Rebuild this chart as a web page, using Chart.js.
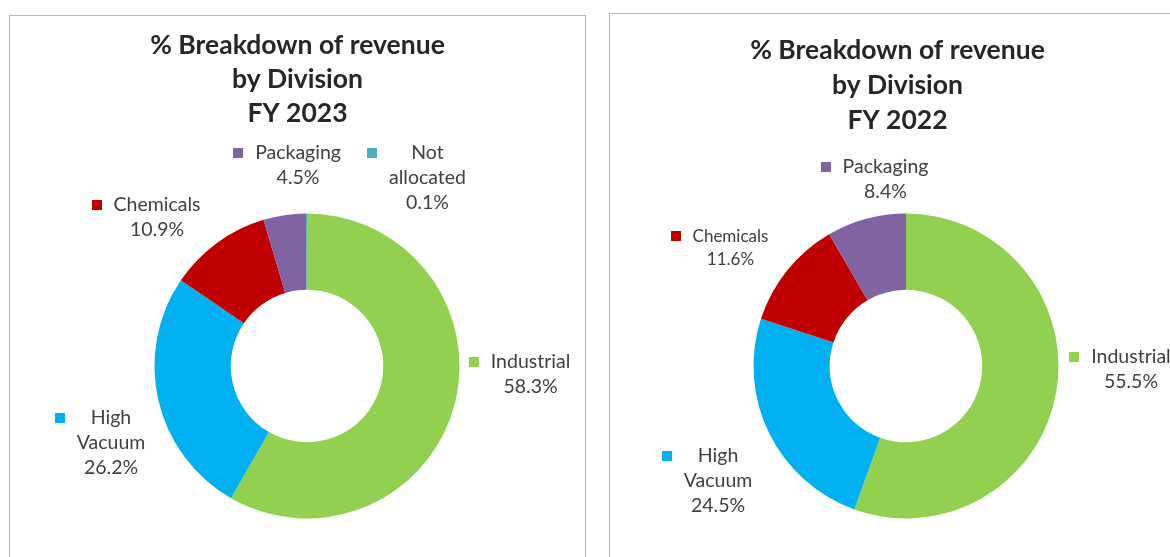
<!DOCTYPE html>
<html><head><meta charset="utf-8">
<script src="https://cdn.jsdelivr.net/npm/chart.js@4.4.0/dist/chart.umd.min.js"></script>
<style>
html,body{margin:0;padding:0;background:#fff;width:1170px;height:557px;overflow:hidden;}
.panel{position:absolute;border:1px solid #b8b8b8;width:575px;height:560px;background:#fff}
#p1{left:9px;top:15px}
#p2{left:609px;top:13px}
canvas{display:block}
</style></head><body>
<div class="panel" id="p1"><canvas id="c1" width="575" height="560"></canvas></div>
<div class="panel" id="p2"><canvas id="c2" width="575" height="560"></canvas></div>
<script>
// ---- data ----
const divisions2023 = ['Industrial', 'High Vacuum', 'Chemicals', 'Packaging', 'Not allocated'];
const share2023 = [58.3, 26.2, 10.9, 4.5, 0.1];
const divisions2022 = ['Industrial', 'High Vacuum', 'Chemicals', 'Packaging'];
const share2022 = [55.5, 24.5, 11.6, 8.4];
const title2023 = ['% Breakdown of revenue', 'by Division', 'FY 2023'];
const title2022 = ['% Breakdown of revenue', 'by Division', 'FY 2022'];

// ---- styles ----
const colorOf = {
  'Industrial': '#92D050',
  'High Vacuum': '#00B0F0',
  'Chemicals': '#C00000',
  'Packaging': '#8064A2',
  'Not allocated': '#4BACC6'
};
const FAMILY = 'Lato, "Open Sans", sans-serif';

// centre the title over the whole canvas, independent of the plot padding
const centerTitle = {
  id: 'centerTitle',
  afterLayout(chart) {
    if (chart.titleBlock) {
      chart.titleBlock.left = 0;
      chart.titleBlock.right = chart.width;
    }
  }
};

const keyLabels = {
  id: 'keyLabels',
  afterDatasetsDraw(chart, args, opts) {
    const ctx = chart.ctx;
    const meta = chart.getDatasetMeta(0);
    const ds = chart.data.datasets[0];
    meta.data.forEach((arc, i) => {
      const p = arc.getProps(['x', 'y', 'startAngle', 'endAngle', 'outerRadius'], true);
      const mid = (p.startAngle + p.endAngle) / 2;
      const r = p.outerRadius + opts.reach;
      const n = opts.nudges[i] || [0, 0];
      const cx = p.x + Math.cos(mid) * r + n[0];
      const cy = p.y + Math.sin(mid) * r + n[1];
      const lines = chart.data.labels[i].split(' ').concat([ds.data[i].toFixed(1) + '%']);
      const size = (opts.sizes && opts.sizes[i]) || opts.size;
      const lh = (opts.lineHeights && opts.lineHeights[i]) || opts.lineHeight;
      ctx.save();
      ctx.font = size + 'px ' + FAMILY;
      ctx.fillStyle = opts.color;
      ctx.textAlign = 'center';
      ctx.textBaseline = 'middle';
      const top = cy - (lines.length - 1) * lh / 2;
      let maxW = 0;
      lines.forEach((t, k) => {
        ctx.fillText(t, cx, top + k * lh);
        maxW = Math.max(maxW, ctx.measureText(t).width);
      });
      ctx.fillStyle = ds.backgroundColor[i];
      const ks = opts.keySize;
      ctx.fillRect(Math.round(cx - maxW / 2 - opts.keyGap - ks), Math.round(top - ks / 2), ks, ks);
      ctx.restore();
    });
  }
};

function makeChart(id, labels, values, title, cfg) {
  return new Chart(document.getElementById(id), {
    type: 'doughnut',
    data: {
      labels: labels,
      datasets: [{
        data: values,
        backgroundColor: labels.map(l => colorOf[l]),
        borderWidth: 0,
        hoverOffset: 0
      }]
    },
    options: {
      responsive: false,
      animation: false,
      cutout: '50%',
      layout: { padding: cfg.padding },
      plugins: {
        legend: { display: false },
        tooltip: { enabled: false },
        title: {
          display: true,
          text: title,
          color: '#262626',
          font: { family: FAMILY, size: 26.5, weight: 'bold', lineHeight: cfg.titleLH },
          padding: cfg.titlePad
        },
        keyLabels: {
          reach: 45,
          nudges: cfg.nudges,
          size: 19.5,
          sizes: cfg.sizes,
          lineHeight: 25,
          lineHeights: cfg.lineHeights,
          color: '#404040',
          keySize: 10,
          keyGap: 12
        }
      }
    },
    plugins: [centerTitle, keyLabels]
  });
}

makeChart('c1', divisions2023, share2023, title2023, {
  padding: { left: 100, right: 81, top: 0, bottom: 57.5 },
  titleLH: '34px',
  titlePad: { top: 12, bottom: 83.5 },
  nudges: [[32.7, -42.9], [-3.5, 32.7], [-33.4, 10.9], [20.1, -5.2], [121.1, 9.5]]
});

makeChart('c2', divisions2022, share2022, title2022, {
  padding: { left: 98, right: 81, top: 0, bottom: 55.5 },
  titleLH: '35px',
  titlePad: { top: 18.5, bottom: 76 },
  nudges: [[30.4, -30.4], [-10.6, 28.1], [-21.8, 5.5], [31, 4.2]],
  sizes: [null, null, 17, null],
  lineHeights: [null, null, 23, null]
});
</script>
</body></html>
